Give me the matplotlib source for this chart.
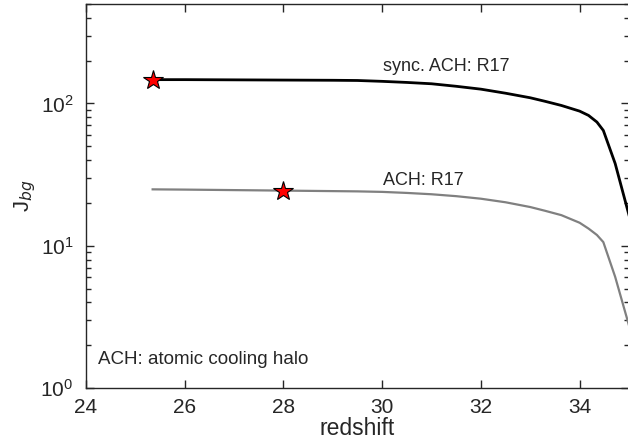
import numpy as np
import matplotlib.pyplot as plt

plt.rcParams['font.family'] = ['Liberation Sans', 'DejaVu Sans']

# values
z = [25.35, 26.0, 27.0, 28.0, 29.0, 29.5, 30.0, 30.5, 31.0, 31.5, 32.0, 32.5, 33.0, 33.3, 33.63,
     34.0, 34.18, 34.35, 34.48, 34.72, 35.0]
j_sync = [147, 147, 146.5, 146, 145.5, 145, 143, 140.5, 137.5, 132, 126, 118, 109.6, 103.5, 96.8,
          88.3, 82.4, 74, 64.6, 37.8, 16.4]
j_ach = [24.9, 24.8, 24.6, 24.4, 24.2, 24.1, 23.9, 23.5, 23.0, 22.3, 21.4, 20.2, 18.7, 17.6, 16.4,
         14.5, 13.2, 11.9, 10.6, 6.04, 2.75]
star_z = [25.35, 28.0]
star_j = [147, 24.1]

fig = plt.figure(figsize=(6.28, 4.45), dpi=100)
ax = fig.add_axes([86/628, 1 - 388/445, 543/628, 384/445])

ax.plot(z, j_sync, color='black', lw=2.0)
ax.plot(z, j_ach, color='#808080', lw=1.6)
ax.plot(star_z, star_j, linestyle='none', marker='*', ms=15,
        markerfacecolor='red', markeredgecolor='black', markeredgewidth=0.8)

ax.set_yscale('log')
ax.set_xlim(24, 35)
ax.set_ylim(1, 500)
ax.set_xticks([24, 26, 28, 30, 32, 34])
ax.tick_params(which='both', direction='in', top=True, right=True, labelsize=15, width=1.0,
               colors='#262626')
ax.tick_params(which='major', length=6)
ax.tick_params(which='minor', length=3.5)
ax.tick_params(axis='y', pad=9)
ax.tick_params(axis='x', pad=7)
ax.minorticks_on()
ax.xaxis.set_minor_locator(plt.NullLocator())
for s in ax.spines.values():
    s.set_color('#262626')
    s.set_linewidth(1.0)

ax.set_xlabel('redshift', fontsize=16.5, labelpad=0, color='#262626')
ax.set_ylabel('J$_{bg}$', fontsize=16, labelpad=2, color='#262626')

ax.text(30.02, 168, 'sync. ACH: R17', fontsize=13, va='baseline', color='#262626')
ax.text(30.02, 26.6, 'ACH: R17', fontsize=13, va='baseline', color='#262626')
ax.text(24.24, 1.47, 'ACH: atomic cooling halo', fontsize=13.5, va='baseline', color='#262626')

fig.savefig('out.png', dpi=100)
